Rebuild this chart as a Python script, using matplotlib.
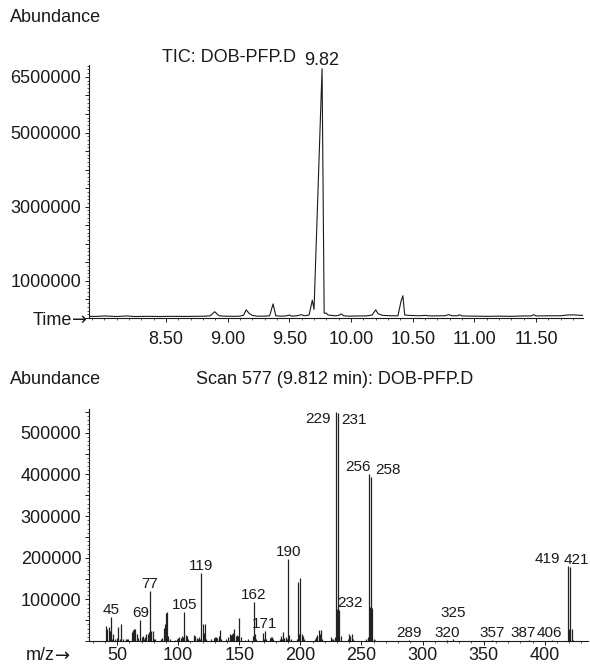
import matplotlib.pyplot as plt
from matplotlib.ticker import MultipleLocator, FuncFormatter

W, H = 590, 666
plt.rcParams['font.family'] = ['Liberation Sans', 'DejaVu Sans']
INK = '#1a1a1a'

# ---- TIC chromatogram (time in min, abundance) ----
tic_time = [7.86, 7.95, 8.00, 8.10, 8.18, 8.25, 8.35, 8.45, 8.55, 8.65, 8.75, 8.82,
            8.86, 8.895, 8.93, 8.97, 9.05, 9.10, 9.13, 9.15, 9.175, 9.20, 9.24, 9.30,
            9.34, 9.368, 9.39, 9.43, 9.47, 9.50, 9.52, 9.56, 9.60, 9.62, 9.66, 9.686,
            9.70, 9.765, 9.782, 9.80, 9.815, 9.84, 9.87, 9.90, 9.92, 9.94, 9.98, 10.05,
            10.12, 10.17, 10.20, 10.22, 10.26, 10.33, 10.38, 10.405, 10.42, 10.435, 10.47,
            10.55, 10.60, 10.65, 10.72, 10.76, 10.79, 10.82, 10.86, 10.88, 10.90, 11.00,
            11.10, 11.20, 11.30, 11.40, 11.46, 11.48, 11.50, 11.60, 11.70, 11.75, 11.80,
            11.85, 11.88]
tic_abund = [40000, 45000, 55000, 40000, 55000, 40000, 45000, 40000, 45000, 42000, 45000, 50000,
             60000, 170000, 60000, 50000, 45000, 50000, 80000, 220000, 120000, 70000, 50000, 50000,
             60000, 380000, 60000, 50000, 55000, 80000, 50000, 60000, 90000, 60000, 80000, 480000,
             230000, 6720000, 130000, 130000, 80000, 70000, 60000, 70000, 110000, 60000, 50000, 55000,
             55000, 80000, 220000, 110000, 70000, 60000, 60000, 450000, 600000, 80000, 70000,
             60000, 70000, 55000, 60000, 60000, 90000, 60000, 60000, 85000, 55000, 50000,
             45000, 50000, 45000, 55000, 55000, 90000, 55000, 60000, 60000, 80000, 85000,
             75000, 70000]
tic_apex = 9.765
tic_apex_label = '9.82'
tic_ylabels = [1000000, 3000000, 5000000, 6500000]
tic_xticks = [8.5, 9.0, 9.5, 10.0, 10.5, 11.0, 11.5]

# ---- mass spectrum, scan 577 ----
ms_mz = [41, 42, 43, 44, 45, 46, 47, 48, 50, 51, 52, 53, 55, 57, 58, 59,
         62, 63, 64, 65, 66, 67, 69, 70, 71, 72, 73, 74, 75, 76, 77, 78, 79, 80, 81,
         86, 87, 88, 89, 90, 91, 92, 93, 97, 99, 100, 101, 102, 103, 104, 105, 106, 107, 108,
         113, 114, 115, 116, 117, 118, 119, 120, 121, 122, 123, 127, 129, 130, 131, 132, 133,
         134, 135, 139, 141, 142, 143, 144, 145, 146, 147, 148, 149, 150, 151, 155, 157,
         161, 162, 163, 164, 169, 170, 171, 172, 175, 176, 177, 178, 183, 184, 185, 186,
         187, 188, 189, 190, 191, 192, 197, 198, 199, 200, 201, 202, 203, 212, 213, 214,
         215, 216, 217, 218, 225, 226, 227, 228, 229, 230, 231, 232, 233, 239, 240, 241,
         242, 243, 254, 255, 256, 257, 258, 259, 260, 261, 289, 320, 325, 357, 387, 406,
         419, 420, 421, 422, 423]
ms_abund = [36000, 30000, 34000, 24000, 58000, 6000, 16000, 5000, 8000, 34000, 6000, 42000, 5000, 6000, 4000, 4000,
            22000, 26000, 30000, 28000, 16000, 8000, 50000, 10000, 12000, 6000, 10000, 16000, 18000, 22000, 119000, 24000, 24000, 6000, 4000,
            4000, 8000, 32000, 40000, 68000, 70000, 12000, 6000, 3000, 6000, 8000, 10000, 8000, 12000, 10000, 69000, 14000, 12000, 6000,
            14000, 12000, 8000, 6000, 10000, 6000, 164000, 42000, 20000, 42000, 6000, 4000, 8000, 10000, 10000, 8000, 12000,
            26000, 6000, 4000, 10000, 18000, 14000, 18000, 20000, 30000, 12000, 14000, 12000, 55000, 10000, 3000, 4000,
            12000, 94000, 16000, 4000, 20000, 4000, 24000, 4000, 8000, 10000, 10000, 4000, 6000, 12000, 6000, 22000,
            8000, 10000, 4000, 196000, 14000, 4000, 6000, 142000, 18000, 151000, 16000, 12000, 4000, 6000, 10000, 14000,
            26000, 18000, 26000, 6000, 10000, 6000, 4000, 10000, 550000, 76000, 548000, 74000, 12000, 4000, 18000, 12000,
            18000, 6000, 6000, 10000, 402000, 82000, 394000, 80000, 6000, 3000, 3000, 2500, 5000, 2000, 2000, 2000,
            180000, 30000, 178000, 28000, 3000]
ms_labeled = [45, 69, 77, 105, 119, 162, 171, 190, 229, 231, 232, 256, 258,
              289, 320, 325, 357, 387, 406, 419, 421]
ms_ylabels = [100000, 200000, 300000, 400000, 500000]
ms_xticks = [50, 100, 150, 200, 250, 300, 350, 400]

# label placement tweaks: mz -> (dx px, dy px, ha); default is centred 3 px above the peak
label_style = {229: (-5, -11, 'right'), 231: (3, -11, 'left'), 232: (-2, 3, 'left'),
               256: (2, 3, 'right'), 258: (4, 3, 'left'), 325: (0, 22, 'center'),
               387: (-6, 3, 'center'), 406: (-3, 3, 'center'),
               419: (-8, 3, 'right'), 421: (-7, 3, 'left')}


def box(l, t, r, b):
    return [l / W, 1 - b / H, (r - l) / W, (b - t) / H]


def fig_xy(x, y):
    return x / W, 1 - y / H


def style_axes(ax, ylabels):
    for s in ['top', 'right']:
        ax.spines[s].set_visible(False)
    for s in ['left', 'bottom']:
        ax.spines[s].set_linewidth(0.8)
        ax.spines[s].set_color(INK)
    ax.tick_params(which='major', direction='out', length=3, width=0.7, color=INK,
                   labelsize=13, labelcolor=INK)
    ax.tick_params(which='minor', direction='out', length=1.5, width=0.5, color=INK)
    ax.tick_params(axis='y', which='major', pad=2.5)
    ax.yaxis.set_major_formatter(FuncFormatter(
        lambda v, p: '%d' % round(v) if round(v) in ylabels else ''))


def arrow_label(x, y, word):
    # word in the main font, the long arrow from DejaVu Sans
    fig.text(*fig_xy(x - 15, y), word, fontsize=13, color=INK, va='center', ha='right')
    fig.text(*fig_xy(x, y), '\u2192', fontsize=13, color=INK, va='center', ha='right',
             family='DejaVu Sans')


fig = plt.figure(figsize=(W / 100, H / 100), dpi=100)

# top: TIC
ax1 = fig.add_axes(box(89, 65, 583, 318))
ax1.plot(tic_time, tic_abund, color=INK, lw=0.8)
ax1.set_xlim(7.876, 11.88)
ax1.set_ylim(0, 6.82e6)
ax1.set_xticks(tic_xticks)
ax1.xaxis.set_major_formatter(FuncFormatter(lambda v, p: '%.2f' % v))
ax1.xaxis.set_minor_locator(MultipleLocator(0.1))
ax1.yaxis.set_major_locator(MultipleLocator(500000))
ax1.yaxis.set_minor_locator(MultipleLocator(100000))
style_axes(ax1, tic_ylabels)
ax1.tick_params(axis='x', which='major', pad=6)
ax1.text(tic_apex, max(tic_abund), tic_apex_label, ha='center', va='bottom',
         fontsize=13, color=INK, clip_on=False)

fig.text(*fig_xy(10, 18), 'Abundance', fontsize=13, color=INK, va='center')
fig.text(*fig_xy(162, 58), 'TIC: DOB-PFP.D', fontsize=13, color=INK, va='center')
arrow_label(87, 320, 'Time')

# bottom: mass spectrum
ax2 = fig.add_axes(box(89, 409, 588, 641))
ax2.vlines(ms_mz, 0, ms_abund, color='#222222', lw=0.9)
ax2.set_xlim(27, 435.4)
ax2.set_ylim(0, 557000)
ax2.set_xticks(ms_xticks)
ax2.xaxis.set_minor_locator(MultipleLocator(10))
ax2.yaxis.set_major_locator(MultipleLocator(50000))
ax2.yaxis.set_minor_locator(MultipleLocator(10000))
style_axes(ax2, ms_ylabels)
ax2.tick_params(axis='x', which='major', pad=1.5)

for mz in ms_labeled:
    val = ms_abund[ms_mz.index(mz)]
    dx, dy, ha = label_style.get(mz, (0, 3, 'center'))
    ax2.annotate(str(mz), (mz, min(val, 552000)), xytext=(dx * 0.72, dy * 0.72),
                 textcoords='offset points', ha=ha, va='baseline',
                 fontsize=11, color=INK, annotation_clip=False)

fig.text(*fig_xy(10, 380), 'Abundance', fontsize=13, color=INK, va='center')
fig.text(*fig_xy(196, 380), 'Scan 577 (9.812 min): DOB-PFP.D', fontsize=13, color=INK, va='center')
arrow_label(70, 656, 'm/z')

fig.savefig('out.png', dpi=100, facecolor='white')
